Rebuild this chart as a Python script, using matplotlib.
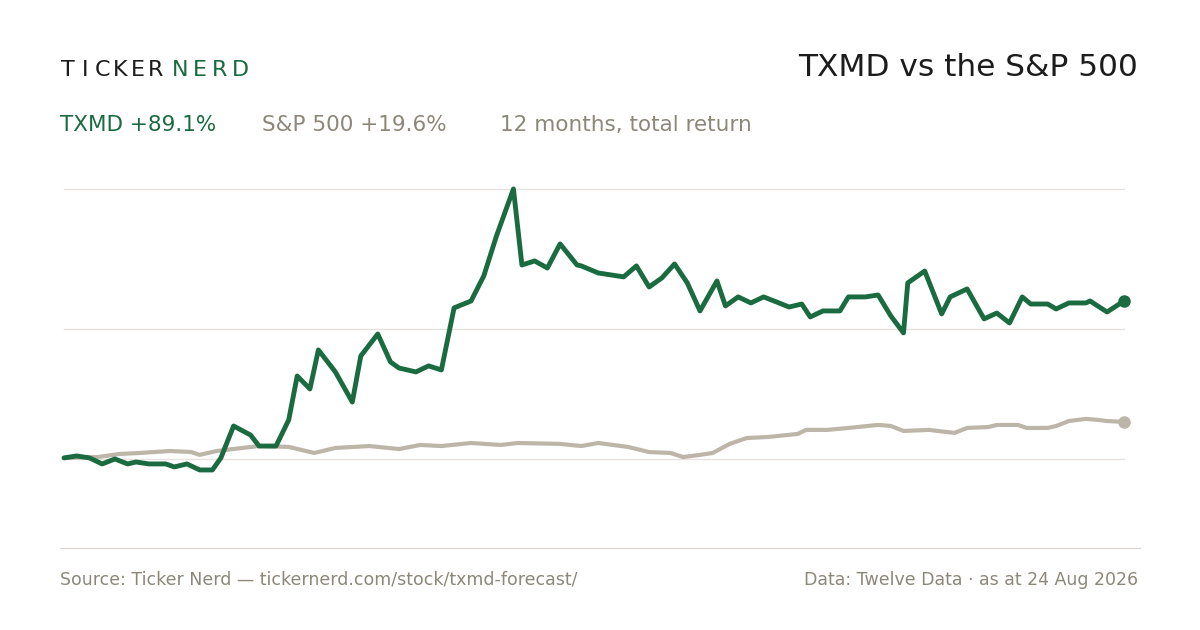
import matplotlib.pyplot as plt

# trading day index and % return since start
txmd_days = [0, 3, 6, 9, 12, 15, 17, 20, 24, 26, 29, 32, 35, 37, 40, 44, 46, 50, 53, 55,
             58, 60, 64, 68, 70, 74, 77, 79, 83, 86, 89, 92, 96, 99, 102, 106, 108, 111, 114, 117,
             121, 122, 126, 129, 132, 135, 138, 141, 144, 147, 150, 154, 156, 159, 162, 165, 168, 171, 174, 176,
             179, 183, 185, 189, 192, 195, 198, 199, 203, 207, 209, 213, 217, 220, 223, 226, 228, 232, 234, 237,
             241, 242, 246, 250]
txmd_pct = [0.6, 1.7, 0.6, -2.8, 0, -2.8, -1.7, -2.8, -2.8, -4.5, -2.8, -6.2, -6.2, 0.6, 18.6, 13.5, 7.3, 7.3, 22.0, 46.8,
            39.5, 61.5, 49.1, 32.1, 58.1, 70.5, 54.7, 51.3, 49.1, 52.5, 50.2, 85.2, 89.1, 103.2, 125.8, 152.3, 109.4, 111.7, 107.7, 121.3,
            109.4, 108.9, 104.9, 103.8, 102.7, 108.9, 97.0, 102.1, 110.0, 99.3, 83.5, 100.4, 86.3, 91.4, 88.0, 91.4, 88.6, 85.7, 87.4, 80.1,
            83.5, 83.5, 91.4, 91.4, 92.5, 80.7, 71.1, 99.3, 106.0, 81.8, 91.4, 95.9, 79.0, 82.3, 76.7, 91.4, 87.4, 87.4, 84.6, 88.0,
            88.0, 89.1, 82.9, 89.1]

spx_days = [0, 8, 13, 18, 25, 30, 32, 36, 42, 46, 53, 59, 64, 72, 79, 84, 89, 96, 103, 107,
            117, 122, 126, 133, 138, 143, 146, 150, 153, 157, 161, 166, 173, 175, 180, 185, 192, 195, 198, 204,
            210, 213, 218, 220, 225, 227, 232, 234, 237, 241, 244, 246, 250]
spx_pct = [0.6, 1.1, 2.8, 3.4, 4.5, 3.9, 2.3, 4.5, 6.2, 7.3, 6.8, 3.4, 6.2, 7.3, 5.6, 7.9, 7.3, 9.0, 7.9, 9.0,
           8.5, 7.3, 9.0, 6.8, 3.9, 3.4, 1.1, 2.3, 3.4, 8.5, 11.8, 12.4, 14.1, 16.4, 16.4, 17.5, 19.2, 18.6, 15.8, 16.4,
           14.7, 17.5, 18.0, 19.2, 19.2, 17.5, 17.5, 18.6, 21.4, 22.6, 22.0, 21.4, 20.9]

grid_levels = [0, 73.3, 152.3]

GREEN = '#1a6b40'
GREY_LINE = '#bdb5a8'
GREY_TEXT = '#8c8778'
DARK = '#1c1c1c'

fig = plt.figure(figsize=(12, 6.3), dpi=100)
ax = fig.add_axes([0.05, 0.1302, 0.9, 0.6197])

for g in grid_levels:
    ax.axhline(g, xmin=4 / 1080, xmax=1064 / 1080, color='#e6e3de', lw=1, zorder=0)

ax.plot(spx_days, spx_pct, color=GREY_LINE, lw=3, solid_capstyle='round', solid_joinstyle='round')
ax.plot(txmd_days, txmd_pct, color=GREEN, lw=3.5, solid_capstyle='round', solid_joinstyle='round')
ax.plot(spx_days[-1], spx_pct[-1], 'o', color=GREY_LINE, ms=8)
ax.plot(txmd_days[-1], txmd_pct[-1], 'o', color=GREEN, ms=8)

step = 1060 / 250
ax.set_xlim(-4 / step, 250 + 16 / step)
ax.set_ylim(-50.2, 170)
for s in ['top', 'right', 'left']:
    ax.spines[s].set_visible(False)
ax.spines['bottom'].set_color('#d8d4cc')
ax.set_xticks([])
ax.set_yticks([])

# logo with letter spacing
for i, ch in enumerate('TICKER'):
    fig.text((68 + i * 17.5) / 1200, 1 - 70 / 630, ch, color=DARK, fontsize=16, va='center', ha='center')
for i, ch in enumerate('NERD'):
    fig.text((180 + i * 20) / 1200, 1 - 70 / 630, ch, color=GREEN, fontsize=16, va='center', ha='center')
fig.text(1138 / 1200, 1 - 68 / 630, 'TXMD vs the S&P 500', color=DARK, fontsize=22.5, va='center', ha='right')

fig.text(60 / 1200, 1 - 125 / 630, 'TXMD +89.1%', color=GREEN, fontsize=15.5, va='center')
fig.text(262 / 1200, 1 - 125 / 630, 'S&P 500 +19.6%', color=GREY_TEXT, fontsize=15.5, va='center')
fig.text(500 / 1200, 1 - 125 / 630, '12 months, total return', color=GREY_TEXT, fontsize=15.5, va='center')

fig.text(60 / 1200, 1 - 580 / 630, 'Source: Ticker Nerd — tickernerd.com/stock/txmd-forecast/',
         color=GREY_TEXT, fontsize=12.5, va='center')
fig.text(1138 / 1200, 1 - 580 / 630, 'Data: Twelve Data · as at 24 Aug 2026',
         color=GREY_TEXT, fontsize=12.5, va='center', ha='right')

fig.savefig('out.png', dpi=100)
